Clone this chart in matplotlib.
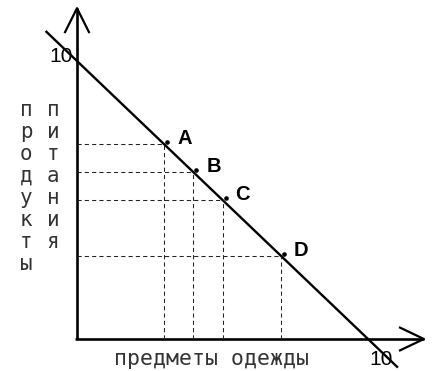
import matplotlib
matplotlib.use('Agg')
import matplotlib.pyplot as plt
import matplotlib.transforms as mtransforms

# данные: бюджетная линия и точки на ней
line_x = [-1.05, 11.0]
line_y = [10 - v for v in line_x]

point_names = ['A', 'B', 'C', 'D']
point_x = [3, 4, 5, 7]
point_y = [7, 6, 5, 3]

axis_max = 10
x_label = 'предметы одежды'
y_words = ['продукты', 'питания']

# пиксельная привязка (433x371, начало координат в (77, 339))
W, H = 433, 371
X0, Y0 = 77, 339
SX, SY = 29.1, 27.8


def dx(px):
    return (px - X0) / SX


def dy(py):
    return (Y0 - py) / SY


fig = plt.figure(figsize=(W / 100, H / 100), dpi=100)
ax = fig.add_axes([0, 0, 1, 1])
ax.set_xlim(dx(0), dx(W))
ax.set_ylim(dy(H), dy(0))
ax.axis('off')

# оси со стрелками
ax.plot([0, 0], [0, 11.9], color='black', lw=1.9, solid_capstyle='butt')
ax.plot([dx(75), 11.92], [0, 0], color='black', lw=1.9, solid_capstyle='butt')
ax.plot([-0.41, 0, 0.41], [11.04, 11.9, 11.04], color='black', lw=1.6)
ax.plot([11.1, 11.92, 11.1], [0.41, 0, -0.41], color='black', lw=1.6)

# бюджетная линия
ax.plot(line_x, line_y, color='black', lw=1.7)

# пунктир до осей
for x, y in zip(point_x, point_y):
    ax.plot([0, x], [y, y], color='#222222', lw=0.75, dashes=(4, 3))
    ax.plot([x, x], [0, y], color='#222222', lw=0.75, dashes=(4, 3))

# точки (чуть смещены, как в оригинале)
dot_tr = mtransforms.offset_copy(ax.transData, fig=fig, x=3, y=2, units='dots')
ax.plot(point_x, point_y, 'o', color='black', markersize=2.3, transform=dot_tr)

for name, x, y in zip(point_names, point_x, point_y):
    ax.annotate(name, (x, y), xytext=(9.4, 0), textcoords='offset points',
                ha='left', va='baseline', fontsize=14.5, fontweight='bold',
                family='Liberation Sans')

# подписи 10
ax.text(dx(72.5), dy(62), str(axis_max), ha='right', va='baseline',
        fontsize=15, family='Liberation Sans')
ax.text(dx(369), dy(365), str(axis_max), ha='left', va='baseline',
        fontsize=15, family='Liberation Sans')

mono = ['DejaVu Sans Mono', 'DejaVu Sans']

# подпись оси X
ax.text(dx(212), dy(365), x_label, ha='center', va='baseline',
        fontsize=15.5, family=mono, color='#333333')

# вертикальная подпись оси Y, буквы столбиком
col_px = [26, 53]
for word, cx in zip(y_words, col_px):
    for i, ch in enumerate(word):
        ax.text(dx(cx), dy(116 + 22 * i), ch, ha='center', va='baseline',
                fontsize=15, family=mono, color='#333333')

fig.savefig('out.png', dpi=100)
